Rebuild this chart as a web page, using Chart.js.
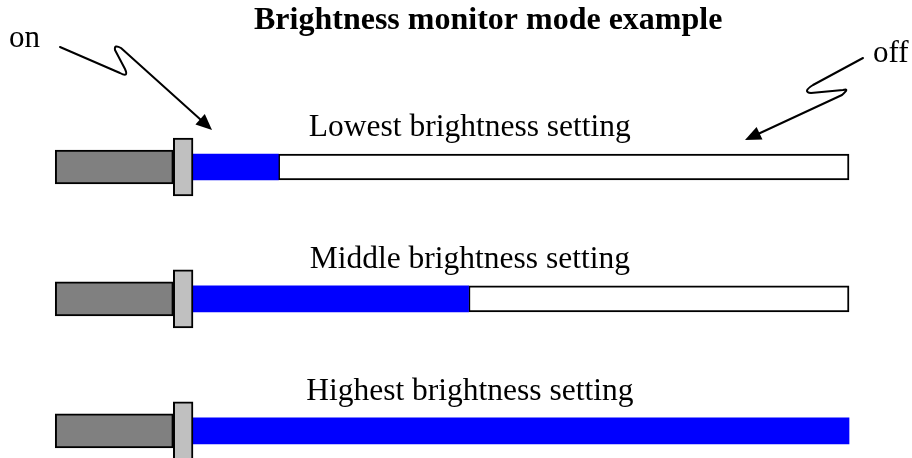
<!DOCTYPE html>
<html>
<head>
<meta charset="utf-8">
<title>Brightness monitor mode example</title>
<script src="https://cdn.jsdelivr.net/npm/chart.js@4.4.7/dist/chart.umd.min.js"></script>
<style>
  html, body { margin: 0; padding: 0; background: #fff; }
  #wrap { position: relative; width: 912px; height: 458px; }
</style>
</head>
<body>
<div id="wrap"><canvas id="brightness"></canvas></div>
<script>
// ---- Data ----
const settings = ["Lowest brightness setting", "Middle brightness setting", "Highest brightness setting"];
const onLevel  = [13, 42, 100];   // % of the tube lit
const offLevel = [87, 58, 0];     // % of the tube dark
const TITLE = "Brightness monitor mode example";

// ---- Style ----
const COLORS = {
  handle: "#808080",
  collar: "#c0c0c0",
  on:     "#0000ff",
  off:    "#ffffff",
  line:   "#000000",
};
const HANDLE = [-21, -3];   // knob left of the tube, in tube %
const COLLAR = [-3, 0];
const SERIF = "'Liberation Serif', 'Times New Roman', serif";

function spans(fn) {
  return settings.map(function (s, i) { return { x: fn(i), y: i }; });
}

// ---- Arrow helper ----
function arrowHead(ctx, tx, ty, fx, fy, len, half) {
  var dx = tx - fx, dy = ty - fy, d = Math.hypot(dx, dy);
  var ux = dx / d, uy = dy / d;
  var bx = tx - ux * len, by = ty - uy * len;
  ctx.beginPath();
  ctx.moveTo(tx, ty);
  ctx.lineTo(bx - uy * half, by + ux * half);
  ctx.lineTo(bx + uy * half, by - ux * half);
  ctx.closePath();
  ctx.fill();
}

// ---- Texts and zigzag arrows ----
const annotations = {
  id: "annotations",
  afterDatasetsDraw(chart) {
    var ctx = chart.ctx, xs = chart.scales.x, ys = chart.scales.y;
    ctx.save();
    ctx.fillStyle = COLORS.line;
    ctx.strokeStyle = COLORS.line;
    ctx.textBaseline = "alphabetic";

    ctx.textAlign = "center";
    ctx.font = "bold 32px " + SERIF;
    ctx.fillText(TITLE, xs.getPixelForValue(45), 29);

    ctx.font = "31.5px " + SERIF;
    settings.forEach(function (s, i) {
      ctx.fillText(s, xs.getPixelForValue(42.2), ys.getPixelForValue(i) - 31);
    });

    ctx.textAlign = "left";
    ctx.font = "31px " + SERIF;
    ctx.fillText("on", 9, 47);
    ctx.fillText("off", 873, 62);

    ctx.lineWidth = 2;
    ctx.lineJoin = "round";
    ctx.lineCap = "round";

    // "on" pointer
    ctx.beginPath();
    ctx.moveTo(60, 47);
    ctx.lineTo(120, 73);
    ctx.quadraticCurveTo(129, 78, 125, 69);
    ctx.lineTo(115, 50);
    ctx.quadraticCurveTo(114, 44, 121, 48);
    ctx.lineTo(201, 120);
    ctx.stroke();
    arrowHead(ctx, 212, 130, 121, 48, 16, 7);

    // "off" pointer
    ctx.beginPath();
    ctx.moveTo(863, 58);
    ctx.lineTo(813, 85);
    ctx.quadraticCurveTo(802, 92, 811, 93);
    ctx.lineTo(843, 90);
    ctx.quadraticCurveTo(850, 88, 842, 95);
    ctx.lineTo(758, 134);
    ctx.stroke();
    arrowHead(ctx, 745, 140, 842, 95, 16, 7);

    ctx.restore();
  },
};

// ---- Chart ----
var ctx = document.getElementById("brightness").getContext("2d");

new Chart(ctx, {
  type: "bar",
  data: {
    datasets: [
      {
        label: "collar",
        data: spans(function () { return COLLAR; }),
        backgroundColor: COLORS.collar,
        borderColor: COLORS.line,
        borderWidth: 2,
        barThickness: 58,
      },
      {
        label: "handle",
        data: spans(function () { return HANDLE; }),
        backgroundColor: COLORS.handle,
        borderColor: COLORS.line,
        borderWidth: 2,
        barThickness: 34,
      },
      {
        label: "on",
        data: spans(function (i) { return [0, onLevel[i]]; }),
        backgroundColor: COLORS.on,
        borderWidth: 0,
        barThickness: 26,
      },
      {
        label: "off",
        data: spans(function (i) { return [onLevel[i], onLevel[i] + offLevel[i]]; }),
        backgroundColor: COLORS.off,
        borderColor: COLORS.line,
        borderWidth: 2,
        barThickness: 26,
      },
    ],
  },
  options: {
    indexAxis: "y",
    responsive: true,
    maintainAspectRatio: false,
    animation: false,
    events: [],
    datasets: {
      bar: { grouped: false, borderSkipped: false, clip: false },
    },
    layout: { padding: 0 },
    plugins: {
      legend: { display: false },
      title: { display: false },
      tooltip: { enabled: false },
    },
    scales: {
      x: { type: "linear", min: -29.42, max: 109.6, offset: false, display: false },
      y: {
        type: "linear", reverse: true, min: -1.265, max: 2.205,
        offset: false, grid: { offset: false }, display: false,
      },
    },
  },
  plugins: [annotations],
});
</script>
</body>
</html>
